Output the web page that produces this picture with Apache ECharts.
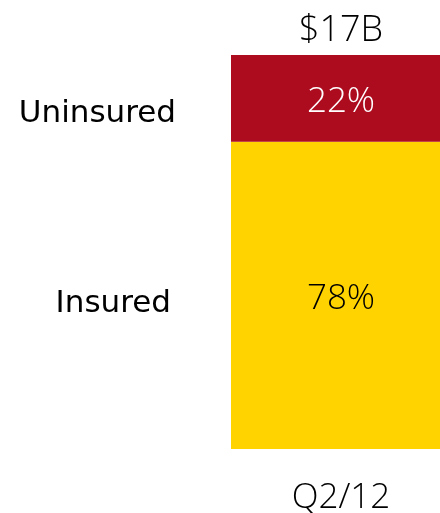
<!DOCTYPE html>
<html>
<head>
<meta charset="utf-8">
<script src="https://cdn.jsdelivr.net/npm/echarts@6/dist/echarts.min.js"></script>
<style>
  html, body { margin: 0; padding: 0; background: #fff; }
  #chart { width: 440px; height: 513px; }
</style>
</head>
<body>
<div id="chart"></div>
<script>
// Deposit composition for one quarter
const quarters = ['Q2/12'];
const totals = ['$17B'];
const segmentNames = ['Insured', 'Uninsured'];
const insuredShare = [78];
const uninsuredShare = [22];
const segmentColors = ['#FFD300', '#AD0B1E'];

const chart = echarts.init(document.getElementById('chart'));

const labelFont = '"Open Sans", "Noto Sans", sans-serif';
const sideFont = '"DejaVu Sans", Verdana, sans-serif';

chart.setOption({
  animation: false,
  grid: { left: 231, width: 220, top: 55, bottom: 64, outerBoundsMode: 'none', containLabel: false },
  xAxis: [
    {
      type: 'category',
      data: quarters,
      position: 'bottom',
      axisLine: { show: false },
      axisTick: { show: false },
      axisLabel: { margin: 32, fontSize: 35, fontWeight: 300, color: '#000', fontFamily: labelFont }
    },
    {
      type: 'category',
      data: totals,
      position: 'top',
      axisLine: { show: false },
      axisTick: { show: false },
      axisLabel: { margin: 6, fontSize: 36, fontWeight: 300, color: '#000', fontFamily: labelFont }
    }
  ],
  yAxis: { type: 'value', min: 0, max: 100, show: false },
  series: [
    {
      name: segmentNames[0],
      type: 'bar',
      stack: 'share',
      barWidth: '100%',
      data: insuredShare,
      itemStyle: { color: segmentColors[0] },
      label: {
        show: true, position: 'inside', formatter: '{c}%',
        fontSize: 35, fontWeight: 300, color: '#000', fontFamily: labelFont, offset: [0, 4]
      }
    },
    {
      name: segmentNames[1],
      type: 'bar',
      stack: 'share',
      barWidth: '100%',
      data: uninsuredShare,
      itemStyle: { color: segmentColors[1] },
      label: {
        show: true, position: 'inside', formatter: '{c}%',
        fontSize: 35, fontWeight: 300, color: '#fff', fontFamily: labelFont, offset: [0, 4]
      }
    }
  ],
  graphic: [
    {
      type: 'text', right: 440 - 176, top: 98,
      style: { text: segmentNames[1], fontSize: 31, fontFamily: sideFont, fill: '#000' }
    },
    {
      type: 'text', right: 440 - 171, top: 288,
      style: { text: segmentNames[0], fontSize: 31, fontFamily: sideFont, fill: '#000' }
    }
  ]
});
</script>
</body>
</html>
